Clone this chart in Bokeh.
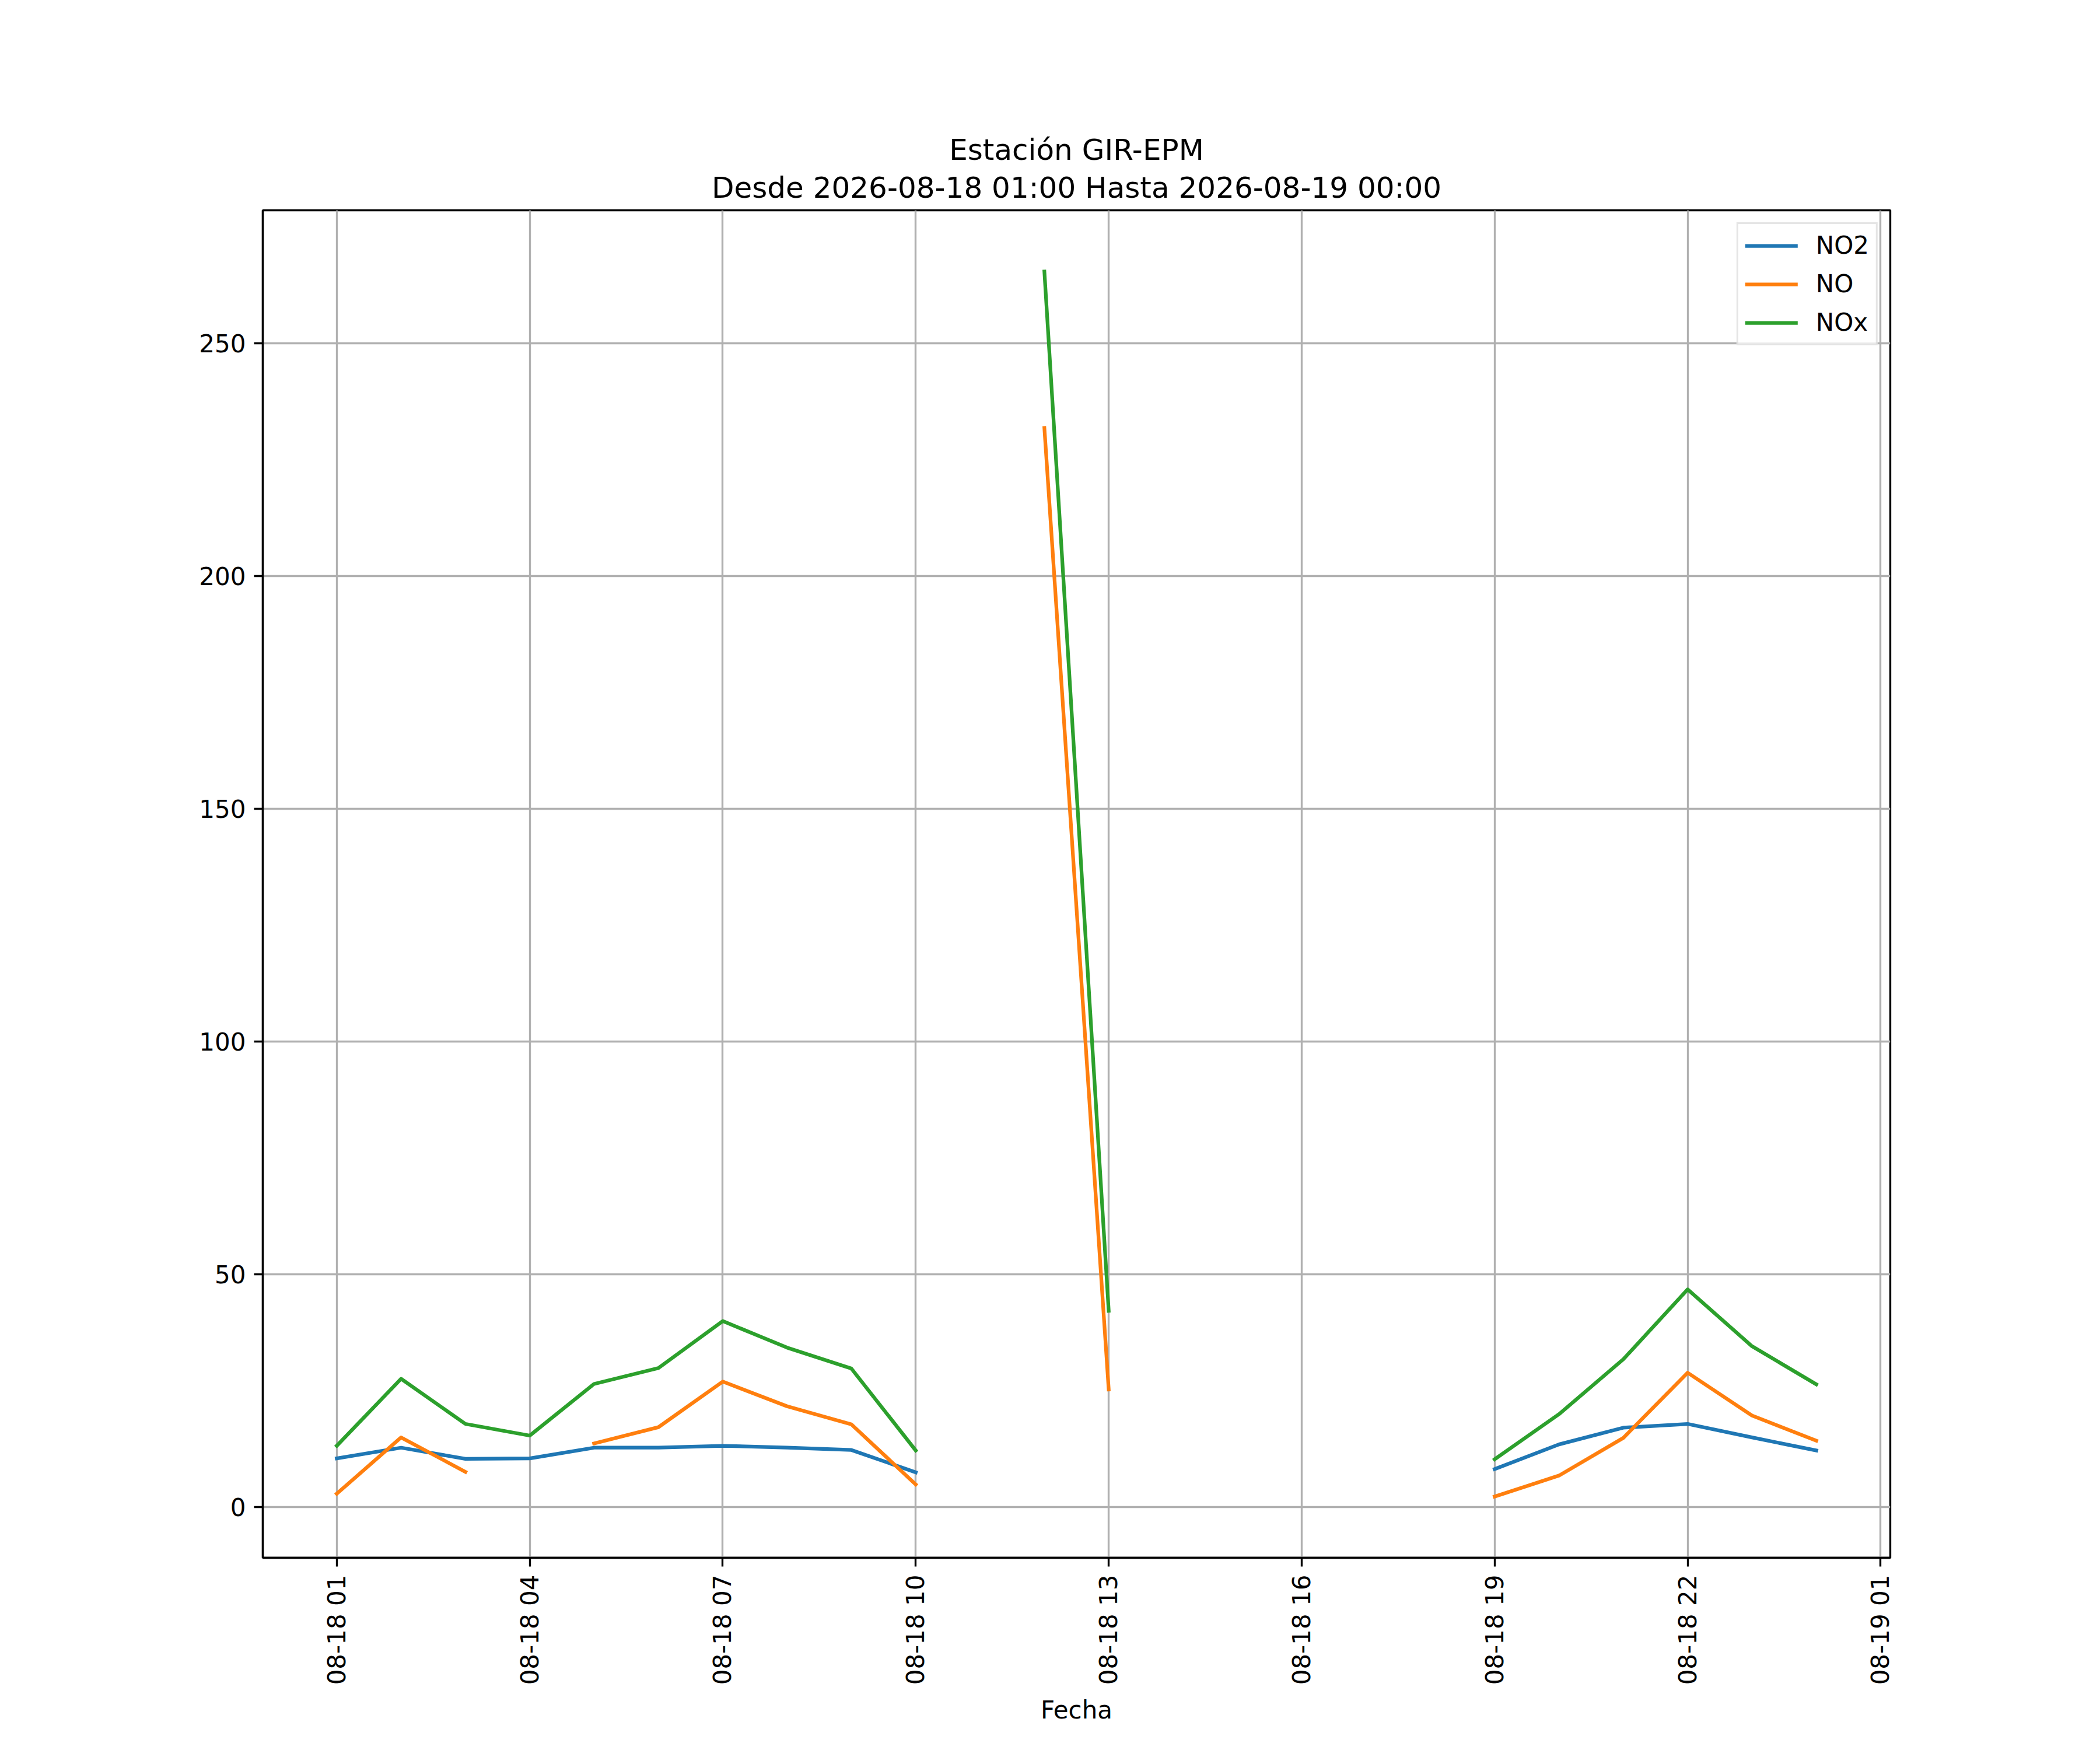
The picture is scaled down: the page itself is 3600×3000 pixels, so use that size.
import math
import numpy as np
import pandas as pd
from bokeh.plotting import figure
from bokeh.models import (Range1d, FixedTicker, DatetimeTickFormatter, Title,
                          Legend, LegendItem)
from bokeh.embed import file_html
from bokeh.resources import INLINE

nan = float("nan")

# ---- data ----
start_time = "2026-08-18 01:00"
n_hours = 24
no2 = [10.4, 12.7, 10.3, 10.4, 12.7, 12.7, 13.1, 12.7, 12.2, 7.4,
       nan, nan, nan, nan, nan, nan, nan, nan,
       8.1, 13.4, 17.0, 17.8, 14.9, 12.1]
no = [2.8, 14.9, 7.5, nan, 13.6, 17.1, 26.9, 21.6, 17.7, 4.8,
      nan, 231.8, 25.2, nan, nan, nan, nan, nan,
      2.2, 6.7, 14.8, 28.8, 19.6, 14.2]
nox = [13.1, 27.5, 17.8, 15.3, 26.4, 29.8, 39.9, 34.2, 29.7, 12.1,
       nan, 265.4, 42.1, nan, nan, nan, nan, nan,
       10.2, 19.9, 31.7, 46.7, 34.5, 26.3]
series_names = ["NO2", "NO", "NOx"]
series_colors = ["#1f77b4", "#ff7f0e", "#2ca02c"]
title_line1 = "Estación GIR-EPM"
title_line2 = "Desde 2026-08-18 01:00 Hasta 2026-08-19 00:00"
x_label = "Fecha"
tick_step_hours = 3
y_ticks = [0, 50, 100, 150, 200, 250]

times = pd.date_range(start_time, periods=n_hours, freq="h")

# ranges with matplotlib-like 5% margins
allv = np.array(no2 + no + nox, dtype=float)
ymin, ymax = np.nanmin(allv), np.nanmax(allv)
yr = ymax - ymin
span = times[-1] - times[0]
x_start = times[0] - 0.05 * span
x_end = times[-1] + 0.05 * span

FONT = "DejaVu Sans"
LW = 3.33

p = figure(x_axis_type="datetime", output_backend="svg", toolbar_location=None,
           frame_width=2790, frame_height=2310,
           min_border_left=450, min_border_right=344,
           min_border_top=360, min_border_bottom=314,
           x_range=Range1d(x_start, x_end),
           y_range=Range1d(ymin - 0.05 * yr, ymax + 0.05 * yr),
           background_fill_color="white", border_fill_color="white")

p.title.visible = False

t2 = Title(text=title_line2, align="center", text_font=FONT, text_font_size="50px",
           text_font_style="normal", text_color="black", standoff=20,
           text_line_height=1.0)
t1 = Title(text=title_line1, align="center", text_font=FONT, text_font_size="50px",
           text_font_style="normal", text_color="black", standoff=-10,
           text_line_height=1.0)
p.add_layout(t2, "above")
p.add_layout(t1, "above")

renderers = []
for vals, name, col in zip([no2, no, nox], series_names, series_colors):
    r = p.line(times, vals, line_color=col, line_width=6.25,
               line_join="round", line_cap="square")
    renderers.append((name, r))

# axes
tick_times = pd.date_range(start_time, periods=9, freq=f"{tick_step_hours}h")
p.xaxis.ticker = FixedTicker(ticks=[t.value // 10**6 for t in tick_times])
fmt = "%m-%d %H"
p.xaxis.formatter = DatetimeTickFormatter(hours=fmt, hourmin=fmt, days=fmt,
                                          minutes=fmt, minsec=fmt, seconds=fmt,
                                          months=fmt, years=fmt)
p.xaxis.major_label_orientation = math.pi / 2
p.yaxis.ticker = FixedTicker(ticks=y_ticks)
p.xaxis.axis_label = x_label

for ax in (p.xaxis[0], p.yaxis[0]):
    ax.axis_line_color = "black"
    ax.axis_line_width = LW
    ax.major_tick_line_color = "black"
    ax.major_tick_line_width = LW
    ax.major_tick_out = 15
    ax.major_tick_in = 0
    ax.minor_tick_line_color = None
    ax.major_label_text_font = FONT
    ax.major_label_text_font_size = "42px"
    ax.major_label_text_color = "black"
    ax.major_label_standoff = 14
    ax.axis_label_text_font = FONT
    ax.axis_label_text_font_size = "42px"
    ax.axis_label_text_font_style = "normal"
    ax.axis_label_text_color = "black"
    ax.axis_label_standoff = 16

p.outline_line_color = "black"
p.outline_line_width = LW
p.outline_line_alpha = 1

for g in (p.xgrid[0], p.ygrid[0]):
    g.grid_line_color = "#b0b0b0"
    g.grid_line_width = LW

legend = Legend(items=[LegendItem(label=n, renderers=[r]) for n, r in renderers],
                location="top_right", margin=21, padding=12, spacing=17,
                glyph_width=90, glyph_height=40, label_height=40,
                label_standoff=31, label_text_font=FONT,
                label_text_font_size="42px", label_text_color="black",
                border_line_color="#cccccc", border_line_width=LW,
                background_fill_color="white", background_fill_alpha=0.8)
p.add_layout(legend, "center")

with open("out.html", "w", encoding="utf-8") as f:
    f.write(file_html(p, INLINE))
